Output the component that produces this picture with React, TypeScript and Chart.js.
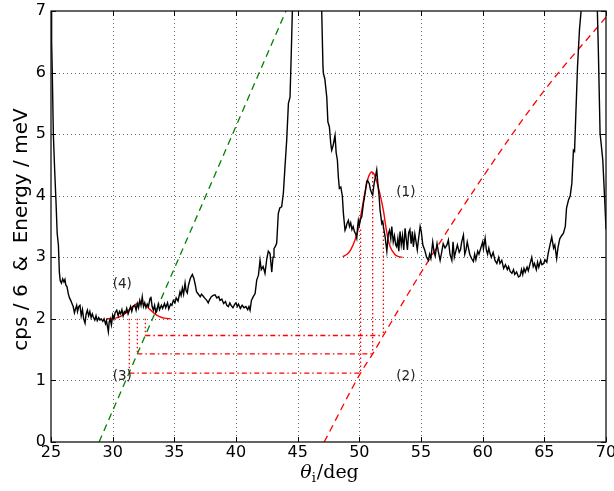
import React, { useEffect, useRef } from 'react';
import { Chart, registerables } from 'chart.js';

Chart.register(...registerables);

// measured scan: angle of incidence (deg) and count rate / 6
const thetaDeg = [
  25.00, 25.05, 25.10, 25.19, 25.30, 25.40, 25.50, 25.60, 25.68, 25.75, 25.85, 25.95, 26.05, 26.13, 26.20, 26.30,
  26.40, 26.50, 26.60, 26.70, 26.80, 26.90, 27.00, 27.08, 27.15, 27.25, 27.35, 27.45, 27.55, 27.65, 27.76, 27.85,
  27.95, 28.05, 28.15, 28.25, 28.35, 28.43, 28.55, 28.65, 28.75, 28.87, 28.97, 29.07, 29.20, 29.30, 29.42, 29.50,
  29.60, 29.65, 29.72, 29.80, 29.90, 30.00, 30.10, 30.20, 30.33, 30.45, 30.55, 30.65, 30.75, 30.85, 30.95, 31.05,
  31.14, 31.25, 31.35, 31.45, 31.55, 31.65, 31.80, 31.90, 32.00, 32.10, 32.20, 32.30, 32.40, 32.50, 32.60, 32.70,
  32.80, 32.90, 33.03, 33.10, 33.20, 33.30, 33.40, 33.50, 33.57, 33.70, 33.80, 33.95, 34.05, 34.20, 34.30, 34.45,
  34.55, 34.70, 34.80, 34.92, 35.05, 35.15, 35.30, 35.46, 35.55, 35.65, 35.75, 35.87, 35.95, 36.05, 36.15, 36.30,
  36.46, 36.58, 36.70, 36.80, 36.95, 37.10, 37.20, 37.30, 37.45, 37.63, 37.75, 37.85, 38.00, 38.15, 38.30, 38.45,
  38.60, 38.70, 38.85, 39.00, 39.15, 39.25, 39.38, 39.50, 39.60, 39.75, 39.90, 40.00, 40.10, 40.20, 40.35, 40.50,
  40.65, 40.80, 40.95, 41.05, 41.14, 41.25, 41.40, 41.55, 41.68, 41.82, 41.95, 42.05, 42.20, 42.35, 42.50, 42.62,
  42.76, 42.90, 43.00, 43.08, 43.20, 43.30, 43.43, 43.55, 43.70, 43.84, 43.95, 44.11, 44.25, 44.38, 44.48, 44.57,
  44.70, 45.50, 46.30, 46.80, 46.95, 47.05, 47.09, 47.20, 47.36, 47.45, 47.57, 47.68, 47.76, 47.88, 48.03, 48.12,
  48.22, 48.30, 48.38, 48.50, 48.62, 48.71, 48.84, 48.92, 49.00, 49.11, 49.20, 49.30, 49.40, 49.50, 49.60, 49.70,
  49.79, 49.86, 49.92, 50.00, 50.10, 50.20, 50.33, 50.47, 50.60, 50.66, 50.80, 50.90, 51.00, 51.08, 51.20, 51.30,
  51.41, 51.50, 51.60, 51.68, 51.82, 51.90, 51.95, 52.09, 52.23, 52.35, 52.45, 52.55, 52.63, 52.75, 52.85, 52.95,
  53.03, 53.12, 53.20, 53.30, 53.40, 53.50, 53.60, 53.71, 53.80, 53.90, 54.00, 54.10, 54.20, 54.30, 54.38, 54.50,
  54.60, 54.70, 54.80, 54.93, 55.02, 55.15, 55.30, 55.45, 55.60, 55.70, 55.80, 55.95, 56.05, 56.15, 56.30, 56.40,
  56.55, 56.65, 56.80, 56.95, 57.10, 57.22, 57.35, 57.50, 57.60, 57.70, 57.85, 57.95, 58.10, 58.20, 58.30, 58.44,
  58.55, 58.65, 58.75, 58.85, 58.95, 59.10, 59.25, 59.35, 59.45, 59.60, 59.70, 59.85, 60.00, 60.06, 60.20, 60.30,
  60.40, 60.50, 60.60, 60.70, 60.85, 61.00, 61.15, 61.30, 61.40, 61.55, 61.70, 61.85, 62.00, 62.10, 62.23, 62.37,
  62.50, 62.60, 62.75, 62.90, 63.04, 63.15, 63.25, 63.35, 63.45, 63.60, 63.70, 63.85, 63.98, 64.10, 64.20, 64.35,
  64.45, 64.55, 64.70, 64.80, 64.95, 65.05, 65.20, 65.30, 65.46, 65.60, 65.75, 65.85, 66.00, 66.10, 66.25, 66.40,
  66.55, 66.70, 66.80, 66.96, 67.10, 67.23, 67.36, 67.45, 67.55, 67.69, 67.85, 67.98, 68.20, 68.70, 69.10, 69.30,
  69.38, 69.52, 69.63, 69.74, 69.92, 70.00,
];
const cpsOver6 = [
  7.30, 6.50, 6.05, 5.00, 4.40, 3.93, 3.39, 3.20, 2.75, 2.62, 2.58, 2.65, 2.60, 2.64, 2.55, 2.52,
  2.41, 2.34, 2.30, 2.25, 2.20, 2.10, 2.17, 2.22, 2.12, 2.20, 2.22, 2.05, 2.15, 2.00, 1.93, 2.08,
  2.14, 2.05, 2.12, 2.02, 2.08, 2.03, 1.98, 2.05, 1.97, 2.02, 1.98, 2.00, 1.96, 2.00, 1.92, 1.97,
  1.85, 1.79, 1.95, 2.00, 1.90, 2.06, 2.00, 2.10, 2.14, 2.05, 2.12, 2.08, 2.15, 2.05, 2.12, 2.10,
  2.17, 2.08, 2.14, 2.20, 2.12, 2.20, 2.22, 2.14, 2.25, 2.18, 2.30, 2.22, 2.36, 2.20, 2.26, 2.18,
  2.24, 2.20, 2.33, 2.36, 2.20, 2.14, 2.22, 2.10, 2.12, 2.24, 2.15, 2.22, 2.17, 2.25, 2.18, 2.26,
  2.16, 2.24, 2.22, 2.30, 2.26, 2.34, 2.29, 2.44, 2.38, 2.50, 2.40, 2.58, 2.46, 2.42, 2.55, 2.66,
  2.72, 2.66, 2.55, 2.44, 2.40, 2.36, 2.40, 2.38, 2.34, 2.30, 2.26, 2.31, 2.36, 2.38, 2.39, 2.34,
  2.36, 2.30, 2.32, 2.25, 2.28, 2.22, 2.20, 2.26, 2.22, 2.18, 2.24, 2.26, 2.20, 2.24, 2.17, 2.22,
  2.18, 2.20, 2.15, 2.20, 2.14, 2.30, 2.36, 2.41, 2.63, 2.71, 2.95, 2.80, 2.85, 2.74, 2.98, 3.10,
  3.06, 2.76, 3.00, 3.14, 3.18, 3.23, 3.71, 3.80, 3.82, 4.04, 4.40, 4.90, 5.50, 5.60, 6.30, 7.00,
  8.50, 12.0, 12.0, 8.50, 7.00, 6.10, 5.98, 5.90, 5.60, 5.20, 5.12, 4.85, 4.74, 4.82, 4.98, 4.70,
  4.58, 4.30, 4.12, 4.14, 4.00, 3.71, 3.44, 3.48, 3.55, 3.60, 3.50, 3.56, 3.45, 3.50, 3.42, 3.38,
  3.31, 3.50, 3.60, 3.52, 3.62, 3.66, 3.87, 4.04, 4.23, 4.25, 4.20, 4.10, 4.04, 4.01, 4.20, 4.30,
  4.42, 4.20, 4.00, 3.77, 3.55, 3.58, 3.50, 3.33, 3.10, 3.38, 3.44, 3.30, 3.50, 3.25, 3.35, 3.20,
  3.17, 3.30, 3.10, 3.42, 3.20, 3.35, 3.12, 3.47, 3.30, 3.12, 3.40, 3.45, 3.22, 3.42, 3.17, 3.38,
  3.25, 3.12, 3.30, 3.50, 3.42, 3.20, 3.12, 3.00, 2.95, 3.05, 2.98, 3.25, 3.10, 3.02, 3.22, 3.10,
  2.95, 3.05, 3.22, 3.15, 3.20, 3.28, 3.05, 2.95, 3.25, 3.00, 3.12, 3.20, 3.08, 3.12, 3.25, 3.36,
  3.05, 3.12, 3.25, 3.15, 3.05, 2.98, 2.93, 3.05, 2.96, 3.10, 3.05, 3.15, 3.25, 3.14, 3.31, 3.12,
  3.05, 3.15, 3.06, 3.00, 3.08, 2.95, 2.90, 3.00, 2.90, 2.95, 2.82, 2.88, 2.80, 2.85, 2.77, 2.74,
  2.80, 2.72, 2.76, 2.68, 2.70, 2.80, 2.72, 2.82, 2.76, 2.84, 2.78, 2.90, 3.00, 2.85, 2.90, 2.80,
  2.92, 2.84, 2.95, 2.88, 2.90, 2.96, 2.92, 3.05, 3.20, 3.33, 3.15, 3.20, 2.98, 3.15, 3.30, 3.35,
  3.39, 3.50, 3.80, 3.93, 4.00, 4.20, 4.74, 4.72, 5.30, 6.09, 6.70, 7.00, 8.50, 12.0, 8.50, 7.00,
  6.36, 5.01, 4.80, 4.58, 3.82, 3.45,
];

// dispersion curves (energy in meV)
const branch3Theta = [28.9, 44.05];
const branch3E = [0, 7];
const branch2Theta = [47.15, 50.1, 51.08, 51.95, 55, 60, 65, 70];
const branch2E = [0, 1.12, 1.43, 1.73, 2.75, 4.3, 5.71, 6.9];

// fitted peaks
const fit1Theta = [48.65, 49.0, 49.3, 49.65, 49.9, 50.2, 50.45, 50.7, 50.9, 51.08, 51.25, 51.45, 51.68, 51.95, 52.23, 52.5, 52.9, 53.2, 53.5];
const fit1Cps = [3.01, 3.05, 3.12, 3.28, 3.45, 3.77, 4.05, 4.28, 4.37, 4.38, 4.33, 4.2, 4.02, 3.76, 3.4, 3.17, 3.04, 3.01, 3.0];
const fit4Theta = [29.5, 29.9, 30.3, 30.6, 31.0, 31.4, 31.8, 32.2, 32.6, 33.0, 33.4, 33.8, 34.2, 34.7];
const fit4Cps = [2.001, 2.004, 2.016, 2.035, 2.085, 2.158, 2.229, 2.26, 2.229, 2.158, 2.085, 2.035, 2.011, 2.002];

// construction lines
const levelE = [1.12, 1.43, 1.73];
const levelThetaLow = [31.35, 32.0, 32.65];
const levelThetaHigh = [50.1, 51.08, 51.95];
const dropTopLow = [2.0, 2.0, 2.0];
const dropTopHigh = [3.45, 4.37, 3.55];

// labels
const annoText = ['(1)', '(2)', '(3)', '(4)'];
const annoTheta = [53, 53, 30, 30];
const annoE = [4.0, 1.0, 1.0, 2.5];

const xTicks = [25, 30, 35, 40, 45, 50, 55, 60, 65, 70];
const yTicks = [0, 1, 2, 3, 4, 5, 6, 7];

const pts = (xs: number[], ys: number[]) => xs.map((x, i) => ({ x, y: ys[i] }));

const RED = 'rgb(255,0,0)';

const decorPlugin = {
  id: 'decor',
  beforeDatasetsDraw(chart: any) {
    const { ctx, chartArea: a, scales } = chart;
    const xs = scales.x, ys = scales.y;
    ctx.save();
    ctx.strokeStyle = 'rgba(0,0,0,0.6)';
    ctx.lineWidth = 1;
    ctx.setLineDash([1, 3]);
    xTicks.slice(1, -1).forEach((v) => {
      const px = Math.round(xs.getPixelForValue(v)) + 0.5;
      ctx.beginPath();
      ctx.moveTo(px, a.top);
      ctx.lineTo(px, a.bottom);
      ctx.stroke();
    });
    yTicks.slice(1, -1).forEach((v) => {
      const py = Math.round(ys.getPixelForValue(v)) + 0.5;
      ctx.beginPath();
      ctx.moveTo(a.left, py);
      ctx.lineTo(a.right, py);
      ctx.stroke();
    });
    ctx.restore();
  },
  afterDatasetsDraw(chart: any) {
    const { ctx, chartArea: a, scales } = chart;
    const xs = scales.x, ys = scales.y;
    ctx.save();
    // annotations
    ctx.fillStyle = '#222';
    ctx.font = '13.5px "DejaVu Sans"';
    ctx.textAlign = 'left';
    ctx.textBaseline = 'alphabetic';
    annoText.forEach((t, i) => {
      ctx.fillText(t, xs.getPixelForValue(annoTheta[i]), ys.getPixelForValue(annoE[i]));
    });
    // inward ticks
    ctx.strokeStyle = '#000';
    ctx.lineWidth = 1;
    ctx.setLineDash([]);
    const tl = 5;
    xTicks.forEach((v) => {
      const px = Math.round(xs.getPixelForValue(v)) + 0.5;
      ctx.beginPath();
      ctx.moveTo(px, a.bottom);
      ctx.lineTo(px, a.bottom - tl);
      ctx.moveTo(px, a.top);
      ctx.lineTo(px, a.top + tl);
      ctx.stroke();
    });
    yTicks.forEach((v) => {
      const py = Math.round(ys.getPixelForValue(v)) + 0.5;
      ctx.beginPath();
      ctx.moveTo(a.left, py);
      ctx.lineTo(a.left + tl, py);
      ctx.moveTo(a.right, py);
      ctx.lineTo(a.right - tl, py);
      ctx.stroke();
    });
    // frame
    ctx.strokeStyle = '#111';
    ctx.lineWidth = 1.3;
    ctx.strokeRect(a.left, a.top, a.right - a.left, a.bottom - a.top);
    ctx.restore();
  },
  afterDraw(chart: any) {
    const { ctx, chartArea: a } = chart;
    ctx.save();
    ctx.fillStyle = '#000';
    // y title
    ctx.font = '20px "DejaVu Sans"';
    ctx.textAlign = 'center';
    ctx.textBaseline = 'alphabetic';
    ctx.translate(27, (a.top + a.bottom) / 2 + 3);
    ctx.rotate(-Math.PI / 2);
    ctx.fillText('cps / 6  &  Energy / meV', 0, 0);
    ctx.restore();
    // x title: theta_i / deg
    ctx.save();
    ctx.fillStyle = '#000';
    ctx.textAlign = 'left';
    ctx.textBaseline = 'alphabetic';
    const big = '19px "DejaVu Serif"';
    const bigIt = 'italic 19px "DejaVu Serif"';
    const small = '13px "DejaVu Serif"';
    ctx.font = bigIt;
    const w1 = ctx.measureText('θ').width;
    ctx.font = small;
    const w2 = ctx.measureText('i').width;
    ctx.font = big;
    const w3 = ctx.measureText('/deg').width;
    const total = w1 + w2 + 1 + w3;
    let x0 = (a.left + a.right) / 2 - total / 2 + 1;
    const base = 478;
    ctx.font = bigIt;
    ctx.fillText('θ', x0, base);
    x0 += w1;
    ctx.font = small;
    ctx.fillText('i', x0, base + 4);
    x0 += w2 + 1;
    ctx.font = big;
    ctx.fillText('/deg', x0, base);
    ctx.restore();
  },
};

export default function App() {
  const ref = useRef<HTMLCanvasElement | null>(null);
  useEffect(() => {
    if (!ref.current) return;
    const line = (data: any, color: string, width: number, dash: number[], extra: any = {}) => ({
      data,
      borderColor: color,
      backgroundColor: color,
      borderWidth: width,
      borderDash: dash,
      showLine: true,
      pointRadius: 0,
      pointHoverRadius: 0,
      fill: false,
      tension: 0,
      ...extra,
    });
    const datasets: any[] = [
      line(pts(thetaDeg, cpsOver6), '#000', 1.4, []),
      line(pts(branch3Theta, branch3E), 'rgb(0,128,0)', 1.3, [7, 5]),
      line(pts(branch2Theta, branch2E), RED, 1.3, [7, 5], { cubicInterpolationMode: 'monotone' }),
      line(pts(fit1Theta, fit1Cps), RED, 1.4, [], { tension: 0.4 }),
      line(pts(fit4Theta, fit4Cps), RED, 1.4, [], { tension: 0.4 }),
    ];
    levelE.forEach((e, i) => {
      datasets.push(line([{ x: levelThetaLow[i], y: e }, { x: levelThetaHigh[i], y: e }], RED, 1.3, [5, 3, 1.5, 3]));
      datasets.push(line([{ x: levelThetaLow[i], y: dropTopLow[i] }, { x: levelThetaLow[i], y: e }], RED, 1.3, [1.5, 2.5]));
      datasets.push(line([{ x: levelThetaHigh[i], y: dropTopHigh[i] }, { x: levelThetaHigh[i], y: e }], RED, 1.3, [1.5, 2.5]));
    });
    const tickFont = { family: '"DejaVu Sans"', size: 16 };
    const chart = new Chart(ref.current, {
      type: 'scatter',
      data: { datasets },
      options: {
        animation: false,
        responsive: false,
        devicePixelRatio: 1,
        events: [],
        layout: { padding: { top: 11, right: 8, left: 0, bottom: 0 } },
        plugins: { legend: { display: false }, tooltip: { enabled: false }, title: { display: false } },
        scales: {
          x: {
            type: 'linear',
            min: 25,
            max: 70,
            grid: { display: false, drawTicks: false },
            border: { display: false },
            ticks: { stepSize: 5, font: tickFont, color: '#000', padding: 1, maxRotation: 0, autoSkip: false },
            afterFit: (s: any) => {
              s.height = 49;
              s.paddingLeft = 0;
              s.paddingRight = 0;
            },
          },
          y: {
            type: 'linear',
            min: 0,
            max: 7,
            grid: { display: false, drawTicks: false },
            border: { display: false },
            ticks: { stepSize: 1, font: tickFont, color: '#000', padding: 5, autoSkip: false },
            afterFit: (s: any) => {
              s.width = 51;
              s.paddingTop = 0;
              s.paddingBottom = 0;
            },
          },
        },
      },
      plugins: [decorPlugin],
    } as any);
    return () => chart.destroy();
  }, []);
  return (
    <div style={{ position: 'absolute', left: 0, top: 0, width: 614, height: 491, background: '#fff' }}>
      <canvas ref={ref} width={614} height={491} style={{ display: 'block', width: 614, height: 491 }} />
    </div>
  );
}
